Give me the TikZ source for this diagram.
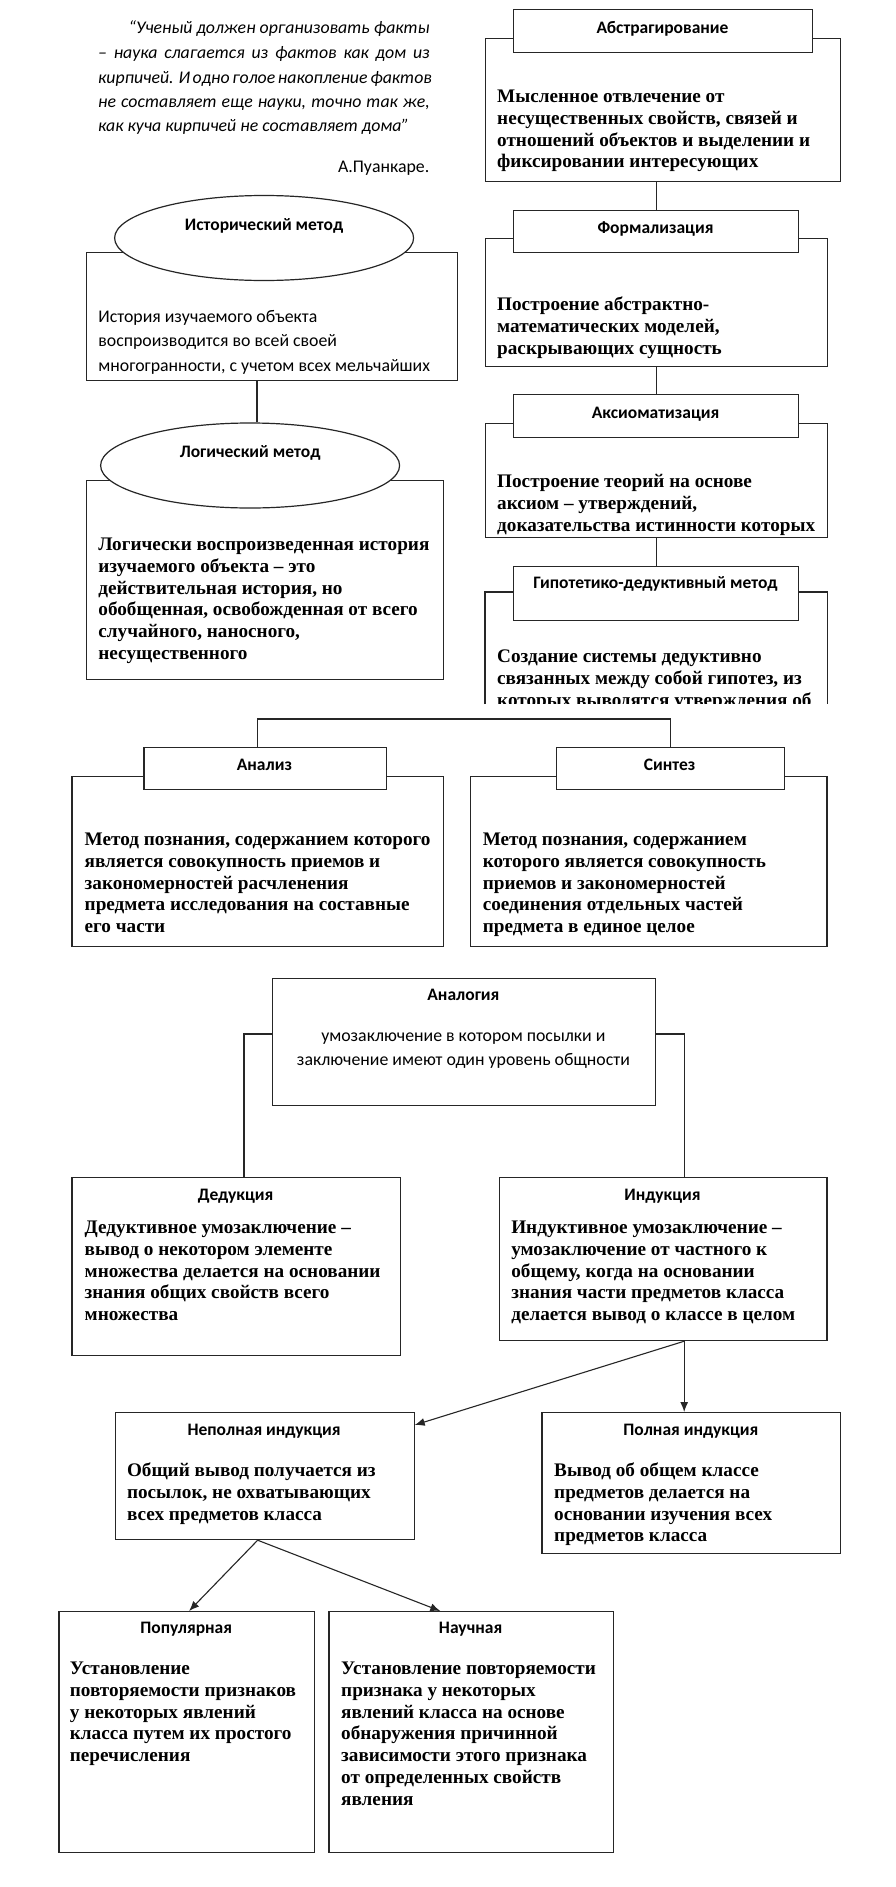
\documentclass[tikz,border=0pt]{standalone}
\usepackage{fontspec}
\setmainfont{Liberation Serif}
\newfontfamily\calfont{Carlito}
\usetikzlibrary{arrows.meta,shapes.geometric}
\begin{document}
\begin{tikzpicture}[x=1pt,y=-1pt,
  box/.style={draw=black!85, line width=1.2pt, fill=white, inner sep=0, anchor=north west},
  oval/.style={ellipse, draw=black!85, line width=1.2pt, fill=white, inner sep=0, minimum width=299, minimum height=85},
  txt/.style={anchor=base west, align=left, inner sep=0, font=\bfseries\fontsize{19.2}{21.8}\selectfont},
  ctxt/.style={anchor=base west, align=left, inner sep=0, font=\calfont\fontsize{17.8}{24.5}\selectfont},
  qtxt/.style={anchor=base west, inner sep=0, font=\calfont\itshape\fontsize{17.8}{24.5}\selectfont},
  ttl/.style={anchor=base, inner sep=0, font=\calfont\bfseries\fontsize{17.5}{20}\selectfont},
  conn/.style={draw=black!85, line width=1.2pt},
  arr/.style={draw=black!85, line width=1.1pt, -{Latex[length=10pt,width=8pt]}}]
\fill[white] (0,0) rectangle (895,1887);
\useasboundingbox (0,0) rectangle (895,1887);
\def\ls{21.8}

% quote
\node[qtxt] (q1) at (128.5,33) {\makebox[301pt][s]{“Ученый должен организовать факты}};
\node[qtxt] (q2) at (98,58) {\makebox[331.5pt][s]{– наука слагается из фактов как дом из}};
\node[qtxt] (q3) at (98,83) {\makebox[331.5pt][s]{кирпичей. И одно голое накопление фактов}};
\node[qtxt] (q4) at (98,107) {\makebox[331.5pt][s]{не составляет еще науки, точно так же,}};
\node[qtxt] (q5) at (98,131) {как куча кирпичей не составляет дома”};
\node[ctxt, anchor=base east] (qa) at (429.5,172) {А.Пуанкаре.};

% right column
\node[box, minimum width=355, minimum height=143] (absC) at (485,38) {};
\node[box, minimum width=299, minimum height=43] (absT) at (513,9) {};
\node[ttl] (absTt) at (662.5,33) {Абстрагирование};
\node[txt] (absCt) at (497,{102.5+3*\ls}) {Мысленное отвлечение от\\несущественных свойств, связей и\\отношений объектов и выделении и\\фиксировании интересующих};

\node[box, minimum width=341.5, minimum height=128] (forC) at (485,238) {};
\node[box, minimum width=285, minimum height=42] (forT) at (513,210) {};
\node[ttl] (forTt) at (655.5,233) {Формализация};
\node[txt] (forCt) at (497,{310.5+2*\ls}) {Построение абстрактно-\\математических моделей,\\раскрывающих сущность};
\draw[conn] (forT.north) -- (forT.north |- absC.south);

\node[box, minimum width=341.5, minimum height=114] (axC) at (485,423) {};
\node[box, minimum width=285, minimum height=43] (axT) at (513,394) {};
\node[ttl] (axTt) at (655.5,418) {Аксиоматизация};
\begin{scope}
\clip (485,423) rectangle (826,535);
\node[txt] (axCt) at (497,{487.5+2*\ls}) {Построение теорий на основе\\аксиом – утверждений,\\доказательства истинности которых};
\end{scope}
\draw[conn] (axT.north) -- (axT.north |- forC.south);

\node[box, draw=none, fill=none, minimum width=341.5, minimum height=111] (hyC) at (485,592) {};
\draw[conn] (hyC.south west) -- (hyC.north west) -- (hyC.north east) -- (hyC.south east);
\node[box, minimum width=285, minimum height=54] (hyT) at (513,566) {};
\node[ttl] (hyTt) at (655.5,588) {Гипотетико-дедуктивный метод};
\begin{scope}
\clip (485,620) rectangle (826,703);
\node[txt] (hyCt) at (497,{662.5+2*\ls}) {Создание системы дедуктивно\\связанных между собой гипотез, из\\которых выводятся утверждения об};
\end{scope}
\draw[conn] (hyT.north) -- (hyT.north |- axC.south);

% left column
\node[box, minimum width=370.7, minimum height=128] (histC) at (86.2,252) {};
\node[oval] (histE) at (264.1,238) {};
\node[ttl] (histEt) at (264.1,230) {Исторический метод};
\node[ctxt] (histCt) at (98.2,{322+2*24.5}) {История изучаемого объекта\\воспроизводится во всей своей\\многогранности, с учетом всех мельчайших};

\node[box, minimum width=356.4, minimum height=199] (logC) at (86.2,480) {};
\node[oval] (logE) at (250.1,465.5) {};
\node[ttl] (logEt) at (250.1,457) {Логический метод};
\node[txt] (logCt) at (98.2,{550.5+5*\ls}) {Логически воспроизведенная история\\изучаемого объекта – это\\действительная история, но\\обобщенная, освобожденная от всего\\случайного, наносного,\\несущественного};
\draw[conn] ([xshift=6.9]logE.north) -- ([xshift=6.9]logE.north |- histC.south);

% analysis / synthesis
\node[box, minimum width=371.2, minimum height=170] (anC) at (71.4,776) {};
\node[box, minimum width=242.2, minimum height=42] (anT) at (143.3,747) {};
\node[ttl] (anTt) at (264.4,770) {Анализ};
\node[txt] (anCt) at (84.5,{845.5+4*\ls}) {Метод познания, содержанием которого\\является совокупность приемов и\\закономерностей расчленения\\предмета исследования на составные\\его части};

\node[box, minimum width=356.4, minimum height=170] (syC) at (470,776) {};
\node[box, minimum width=227.9, minimum height=42] (syT) at (555.7,747) {};
\node[ttl] (syTt) at (669.6,770) {Синтез};
\node[txt] (syCt) at (482.6,{845.5+4*\ls}) {Метод познания, содержанием\\которого является совокупность\\приемов и закономерностей\\соединения отдельных частей\\предмета в единое целое};

\coordinate (anTop) at ([xshift=-7.4]anT.north);
\draw[conn] (anTop) -- ++(0,-28) -| (syT.north);

% analogy
\node[box, minimum width=383.2, minimum height=127] (anaB) at (271.8,978) {};
\node[ttl] (anaBt) at (463.4,1000) {Аналогия};
\node[ctxt, anchor=base] (anaBt1) at (463.4,1041) {умозаключение в котором посылки и};
\node[ctxt, anchor=base] (anaBt2) at (463.4,1065) {заключение имеют один уровень общности};

\node[box, minimum width=328.4, minimum height=178] (dedB) at (71.4,1177) {};
\node[ttl] (dedBt) at (235.6,1200) {Дедукция};
\node[txt] (dedBc) at (84.5,{1233.5+4*\ls}) {Дедуктивное умозаключение –\\вывод о некотором элементе\\множества делается на основании\\знания общих свойств всего\\множества};

\node[box, minimum width=327.8, minimum height=163] (indB) at (498.6,1177) {};
\node[ttl] (indBt) at (662.5,1200) {Индукция};
\node[txt] (indBc) at (511.1,{1233.5+4*\ls}) {Индуктивное умозаключение –\\умозаключение от частного к\\общему, когда на основании\\знания части предметов класса\\делается вывод о классе в целом};

\coordinate (dedTop) at ([xshift=7.7]dedB.north);
\coordinate (indTop) at ([xshift=21.1]indB.north);
\draw[conn] (anaB.west |- 0,1034) -| (dedTop);
\draw[conn] (anaB.east |- 0,1034) -| (indTop);

% induction kinds
\node[box, minimum width=298.7, minimum height=127] (nepB) at (114.8,1412) {};
\node[ttl] (nepBt) at (264.1,1435) {Неполная индукция};
\node[txt] (nepBc) at (126.8,{1476.5+2*\ls}) {Общий вывод получается из\\посылок, не охватывающих\\всех предметов класса};

\node[box, minimum width=298.7, minimum height=141] (polB) at (541.4,1412) {};
\node[ttl] (polBt) at (690.8,1435) {Полная индукция};
\node[txt] (polBc) at (554,{1476.5+3*\ls}) {Вывод об общем классе\\предметов делается на\\основании изучения всех\\предметов класса};

\coordinate (indBot) at ([xshift=21.1]indB.south);
\draw[arr] (indBot) -- (indBot |- polB.north);
\draw[arr] (indBot) -- (nepB.east |- 0,1425);

\node[box, minimum width=255.8, minimum height=241] (popB) at (58.3,1611) {};
\node[ttl] (popBt) at (186.2,1633) {Популярная};
\node[txt] (popBc) at (69.7,{1674.5+4*\ls}) {Установление\\повторяемости признаков\\у некоторых явлений\\класса путем их простого\\перечисления};

\node[box, minimum width=284.4, minimum height=241] (nauB) at (328.4,1611) {};
\node[ttl] (nauBt) at (470.6,1633) {Научная};
\node[txt] (nauBc) at (341,{1674.5+6*\ls}) {Установление повторяемости\\признака у некоторых\\явлений класса на основе\\обнаружения причинной\\зависимости этого признака\\от определенных свойств\\явления};

\coordinate (nepBot) at ([xshift=-7.1]nepB.south);
\draw[arr] (nepBot) -- ([xshift=2.3]popB.north);
\draw[arr] (nepBot) -- ([xshift=-30.9]nauB.north);
\end{tikzpicture}
\end{document}
